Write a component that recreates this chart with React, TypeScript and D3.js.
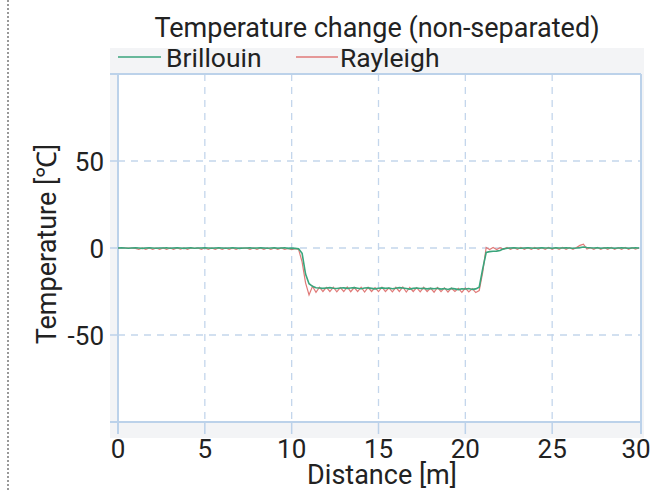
import React from "react";
import * as d3 from "d3";

const distanceStep = 0.2;
const xTicks = [0, 5, 10, 15, 20, 25, 30];
const yTicks = [-50, 0, 50];
const title = "Temperature change (non-separated)";
const seriesNames = ["Brillouin", "Rayleigh"];

// Values at 0.2 m spacing, 0 .. 30 m (151 points)
const brillouin = [
  0, 0.1, 0, -0.1, 0, 0.1, 0, -0.2, 0, 0.1,
  0, -0.1, 0, 0, 0.1, -0.1, 0, 0.1, 0, -0.2,
  0, 0.1, -0.1, 0, 0, 0.1, 0, -0.1, 0, 0.1,
  0, -0.1, 0, 0.1, 0, -0.2, 0, 0, 0.1, -0.1,
  0, 0.1, 0, -0.1, 0, 0.1, -0.1, 0, 0.1, -0.2,
  -0.1, -0.2, -0.4, -3, -15, -20.5, -22, -22.8, -23, -23.2,
  -23, -22.8, -23.1, -23.3, -23, -22.9, -23.2, -23, -22.8, -23.1,
  -23.4, -23, -22.9, -23.2, -23.5, -23.1, -22.9, -23.2, -23, -23.4,
  -23.1, -22.8, -23, -23.3, -23.6, -23.2, -23, -23.3, -23.1, -23.5,
  -23.2, -23.4, -23.1, -23.6, -23.3, -23.8, -23.2, -23.5, -23.9, -23.4,
  -23.6, -23.3, -23.8, -23.5, -22.5, -12, -2.6, -2.1, -1.9, -1.8,
  -1.4, -0.5, -0.1, 0, 0.1, 0, -0.1, 0, 0.1, 0,
  -0.1, 0, 0.1, 0, 0, -0.1, 0.1, 0, 0, 0.1,
  0, -0.1, 0, 0.2, 0.6, 0.3, 0.1, 0, 0.1, -0.1,
  0, 0.1, 0, -0.1, 0, 0.1, 0, -0.1, 0, 0.1,
  0,
];

const rayleigh = [
  0, 0, 0, 0, 0, -0.2, -0.8, 0, -0.8, 0,
  -0.8, 0, -0.8, 0, -0.8, 0, -0.8, 0, -0.6, 0,
  -0.8, 0, -0.2, 0, -0.8, 0, -0.8, 0, -0.8, 0,
  -0.8, 0, -0.8, 0, -0.8, 0, -0.2, 0, -0.8, 0,
  -0.8, 0, -0.8, 0, -0.8, 0, -0.8, 0, -0.8, -0.3,
  -0.9, -0.4, -0.8, -8, -20, -27, -22, -25.5, -22.5, -25,
  -22.6, -25, -22.5, -25.2, -22.8, -25, -22.4, -25.1, -22.7, -25,
  -22.5, -25.3, -22.6, -25, -22.8, -25.1, -22.5, -25, -22.9, -25.2,
  -22.6, -25, -22.4, -25.3, -22.7, -25, -22.8, -25.2, -22.6, -25,
  -23, -25.4, -22.7, -25.1, -22.9, -25.3, -23.1, -25, -23.2, -25.5,
  -23, -25.2, -23.3, -25.6, -24.5, -14, 0.3, -0.9, 0.3, -0.9,
  0.2, -0.8, 0.3, -0.8, 0.2, -0.8, 0.3, -0.7, 0.2, -0.8,
  0.3, -0.8, 0.2, -0.7, 0.3, -0.8, 0.2, -0.8, 0.3, -0.7,
  0.2, -0.8, 0.3, 1.5, 2.2, -0.6, 0.2, -0.8, 0.3, -0.7,
  0.2, -0.8, 0.3, -0.8, 0.2, -0.7, 0.3, -0.8, 0.2, -0.6,
  0,
];

const W = 658;
const H = 491;
const FONT = "Roboto, 'Liberation Sans', Arial, sans-serif";

export default function App() {
  const x = d3.scaleLinear().domain([0, 30]).range([118, 639]);
  const y = d3.scaleLinear().domain([-100, 100]).range([422, 74]);
  const distances = brillouin.map((_, i) => i * distanceStep);
  const line = d3
    .line<number>()
    .x((_, i) => x(distances[i]))
    .y((d) => y(d));

  const frameColor = "#bcd2ea";
  const gridColor = "#c4d6ec";
  const textColor = "#222";

  return (
    <svg
      width={W}
      height={H}
      style={{ position: "absolute", left: 0, top: 0 }}
      fontFamily={FONT}
    >
      <rect x={0} y={0} width={W} height={H} fill="#fff" />
      <line x1={8} y1={0} x2={8} y2={H} stroke="#999" strokeWidth={2} strokeDasharray="2,2" />
      <rect x={110} y={48} width={534} height={390} fill="#f3f4f6" />
      <rect x={118} y={74} width={523} height={348} fill="#fff" />
      {/* grid */}
      {xTicks.slice(1, -1).map((t) => (
        <line key={"gx" + t} x1={x(t)} x2={x(t)} y1={74} y2={422} stroke={gridColor} strokeWidth={1.3} strokeDasharray="7,6" />
      ))}
      {yTicks.map((t) => (
        <line key={"gy" + t} x1={118} x2={641} y1={y(t)} y2={y(t)} stroke={gridColor} strokeWidth={1.3} strokeDasharray="7,6" />
      ))}
      {/* frame */}
      <line x1={110} x2={641} y1={74} y2={74} stroke={frameColor} strokeWidth={2} />
      <line x1={110} x2={641} y1={422} y2={422} stroke={frameColor} strokeWidth={2} />
      <line x1={118} x2={118} y1={74} y2={434} stroke={frameColor} strokeWidth={2} />
      <line x1={641} x2={641} y1={74} y2={434} stroke={frameColor} strokeWidth={2} />
      {xTicks.slice(1, -1).map((t) => (
        <line key={"tx" + t} x1={x(t)} x2={x(t)} y1={422} y2={434} stroke={frameColor} strokeWidth={1.5} />
      ))}
      {yTicks.map((t) => (
        <line key={"ty" + t} x1={110} x2={118} y1={y(t)} y2={y(t)} stroke={frameColor} strokeWidth={1.5} />
      ))}
      {/* data */}
      <path d={line(rayleigh) || ""} fill="none" stroke="#e07a78" strokeWidth={1.2} />
      <path d={line(brillouin) || ""} fill="none" stroke="#3aa57c" strokeWidth={1.6} />
      {/* tick labels */}
      {xTicks.map((t) => (
        <text key={"lx" + t} x={x(t) - (t === 30 ? 3 : 0)} y={458} textAnchor="middle" fontSize={26} fill={textColor}>
          {t}
        </text>
      ))}
      {yTicks.map((t) => (
        <text key={"ly" + t} x={104} y={y(t) + 9.5} textAnchor="end" fontSize={26} fill={textColor}>
          {t}
        </text>
      ))}
      <text x={382} y={484} textAnchor="middle" fontSize={27} fill={textColor}>
        Distance [m]
      </text>
      <text transform="translate(56,244) rotate(-90)" textAnchor="middle" fontSize={27} fill={textColor}>
        Temperature [℃]
      </text>
      <text x={377} y={37} textAnchor="middle" fontSize={27} fill={textColor}>
        {title}
      </text>
      {/* legend */}
      <line x1={118} x2={161} y1={57} y2={57} stroke="#3aa57c" strokeWidth={1.6} />
      <text x={166} y={67} fontSize={26.5} fill={textColor}>
        {seriesNames[0]}
      </text>
      <line x1={296} x2={338} y1={57} y2={57} stroke="#e07a78" strokeWidth={1.6} />
      <text x={340} y={67} fontSize={26.5} fill={textColor}>
        {seriesNames[1]}
      </text>
    </svg>
  );
}
